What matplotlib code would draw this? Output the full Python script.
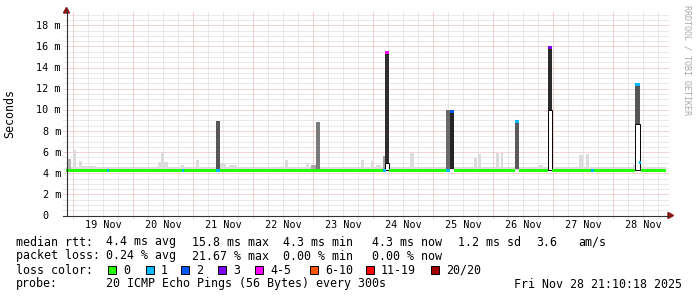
import matplotlib
matplotlib.use("Agg")
import numpy as np
import matplotlib.pyplot as plt
from matplotlib.patches import Rectangle, Polygon
from matplotlib.lines import Line2D

# ---------------- data (time in hours since 19 Nov 00:00) ----------------
t_start, t_end = -2.83, 237.17          # Nov 18 21:10 .. Nov 28 21:10
day_labels = ["19 Nov", "20 Nov", "21 Nov", "22 Nov", "23 Nov",
              "24 Nov", "25 Nov", "26 Nov", "27 Nov", "28 Nov"]
y_ticks = [0, 2, 4, 6, 8, 10, 12, 14, 16, 18]                 # ms
y_tick_labels = ["0", "2 m", "4 m", "6 m", "8 m", "10 m", "12 m", "14 m", "16 m", "18 m"]

median_level = 4.27          # ms, median rtt line
smoke_base_top = 4.6         # ms, usual top of the light smoke

# light smoke bumps above the median
smoke_t0 = [-2.0, 0.0, 2.4, 3.4, 6.0, 34.0, 35.2, 36.4, 43.2, 49.2, 58.8, 60.0, 62.4,
            84.8, 93.2, 95.2, 115.2, 119.2, 121.2, 124.0, 134.8, 160.4, 162.0,
            169.2, 171.2, 186.4, 202.4, 205.2, 224.0]
smoke_t1 = [-1.0, 1.2, 3.4, 6.0, 9.2, 35.2, 36.4, 38.0, 44.4, 50.4, 60.0, 61.2, 65.6,
            86.0, 94.4, 97.2, 116.4, 120.0, 123.2, 124.8, 136.4, 161.6, 163.2,
            170.4, 172.0, 188.0, 204.0, 206.4, 225.2]
smoke_top = [5.3, 6.2, 5.2, 4.7, 4.65, 5.1, 6.0, 5.05, 4.8, 5.25, 5.0, 4.85, 4.75,
             5.25, 5.0, 4.8, 5.25, 5.15, 4.75, 5.6, 5.95, 5.4, 5.8,
             5.95, 5.95, 4.8, 5.7, 5.8, 4.8]
smoke_shade = ["#b8b8b8", "#dcdcdc", "#dcdcdc", "#dcdcdc", "#dcdcdc", "#dcdcdc", "#dcdcdc",
               "#dcdcdc", "#dcdcdc", "#dcdcdc", "#dcdcdc", "#dcdcdc", "#dcdcdc",
               "#dcdcdc", "#dcdcdc", "#a8a8a8", "#dcdcdc", "#dcdcdc", "#dcdcdc", "#a0a0a0",
               "#dcdcdc", "#dcdcdc", "#dcdcdc", "#dcdcdc", "#dcdcdc", "#dcdcdc",
               "#dcdcdc", "#dcdcdc", "#dcdcdc"]

# dark smoke spikes
spike_t0 = [57.2, 97.2, 124.8, 149.2, 150.8, 176.8, 190.0, 224.8]
spike_t1 = [58.6, 98.6, 126.4, 150.6, 152.4, 178.4, 191.4, 226.6]
spike_top = [8.97, 8.85, 15.45, 10.0, 9.8, 8.9, 15.85, 12.4]
spike_low = [4.4, 4.4, 4.95, 4.4, 4.4, 4.4, 10.0, 8.7]
spike_shade = ["#565656", "#7a7a7a", "#2e2e2e", "#6a6a6a", "#242424", "#5a5a5a", "#2a2a2a", "#555555"]
spike_notch = [False, False, True, False, False, False, True, True]

# median line gaps (where the median jumped up) and loss coloured median pieces
median_gap_t0 = [124.8, 150.8, 176.8, 190.0, 224.8]
median_gap_t1 = [126.4, 152.4, 178.4, 191.4, 227.2]
loss_t0 = [13.6, 43.6, 57.2, 124.0, 149.2, 207.2, 124.8, 150.8, 176.8, 190.0, 224.8, 226.4]
loss_t1 = [14.4, 44.4, 58.6, 125.2, 150.6, 208.4, 126.4, 152.4, 178.4, 191.4, 226.6, 227.2]
loss_val = [4.27, 4.27, 4.27, 4.27, 4.27, 4.27, 15.45, 9.8, 8.9, 15.85, 12.4, 5.0]
loss_cat = [1, 1, 1, 1, 1, 1, 4, 2, 1, 3, 1, 1]

loss_labels = ["0", "1", "2", "3", "4-5", "6-10", "11-19", "20/20"]
loss_colors = ["#26ff00", "#00b8ff", "#0059ff", "#7e00ff", "#ff00ff", "#ff5500", "#ff0000", "#a00000"]

stats_rtt = [("median rtt:", 16), ("4.4 ms avg", 106.5), ("15.8 ms max", 191.8),
             ("4.3 ms min", 283), ("4.3 ms now", 371.5), ("1.2 ms sd", 457.5),
             ("3.6", 536.5), ("am/s", 578.5)]
stats_loss = [("packet loss:", 16), ("0.24 % avg", 106.5), ("21.67 % max", 192),
              ("0.00 % min", 283), ("0.00 % now", 371.5)]
probe_text = "20 ICMP Echo Pings (56 Bytes) every 300s"
date_text = "Fri Nov 28 21:10:18 2025"

# ---------------- layout ----------------
W, H, DPI = 697, 297, 100
PX_H = 2.5        # pixels per hour
PX_M = 10.57      # pixels per ms
x_left, x_right, y_bot, y_top = 66.0, 668.0, 215.5, 12.0

MONO = "DejaVu Sans Mono"
fig = plt.figure(figsize=(W / DPI, H / DPI), dpi=DPI)
fig.patch.set_facecolor("white")
ax = fig.add_axes([x_left / W, 1 - y_bot / H, (x_right - x_left) / W, (y_bot - y_top) / H])
ax.set_xlim(t_start, t_start + (x_right - x_left) / PX_H)
ax.set_ylim(0, (y_bot - y_top) / PX_M)
ax.axis("off")

def fx(px):
    return px / W

def fy(py):
    return 1 - py / H

xmin_ext = t_start - 3 / PX_H
ymin_ext = -3 / PX_M
ymax = (y_bot - y_top) / PX_M
xmax = t_start + (x_right - x_left) / PX_H
dots = (0, (1, 1))
minor_c, major_c = "#d4d4d4", "#eaa8a8"

# horizontal grid
for v in np.arange(0.5, 19.01, 0.5):
    major = abs(v / 2 - round(v / 2)) < 1e-9
    ax.hlines(v, xmin_ext, xmax, colors=major_c if major else minor_c,
              linestyles=dots, linewidth=0.72, clip_on=False, zorder=1)
# vertical grid
for h in np.arange(0, 240, 6):
    major = h % 24 == 0
    ax.vlines(h, ymin_ext, ymax, colors=major_c if major else minor_c,
              linestyles=dots, linewidth=0.72, clip_on=False, zorder=1)

# smoke
ax.bar([t_start], [smoke_base_top - median_level], width=[t_end - t_start],
       bottom=median_level, align="edge", color="#dcdcdc", linewidth=0, zorder=2)
for a, b, top, c in zip(smoke_t0, smoke_t1, smoke_top, smoke_shade):
    ax.bar([a], [top - median_level], width=[b - a], bottom=median_level,
           align="edge", color=c, linewidth=0, zorder=2)

# spikes
for a, b, top, low, c, notch in zip(spike_t0, spike_t1, spike_top, spike_low, spike_shade, spike_notch):
    ax.bar([a], [top - low], width=[b - a], bottom=low, align="edge",
           color=c, linewidth=0, zorder=3)
    if notch:
        ax.bar([a], [low - median_level], width=[b - a], bottom=median_level, align="edge",
               facecolor="white", edgecolor="black", linewidth=0.7, zorder=4)

# median line (green where no loss)
line_h = 3 / PX_M
edges = [t_start] + [v for pair in zip(median_gap_t0, median_gap_t1) for v in pair] + [t_end]
for a, b in zip(edges[0::2], edges[1::2]):
    ax.bar([a], [line_h], width=[b - a], bottom=median_level - line_h / 2, align="edge",
           color=loss_colors[0], linewidth=0, zorder=5)
for a, b, v, k in zip(loss_t0, loss_t1, loss_val, loss_cat):
    ax.bar([a], [line_h], width=[b - a], bottom=v - line_h / 2, align="edge",
           color=loss_colors[k], linewidth=0, zorder=6)

# axis labels
for v, lab in zip(y_ticks, y_tick_labels):
    off = -5 if lab != "0" else -5 - 2 * 6.1
    ax.annotate(lab, xy=(0, v), xycoords=("axes fraction", "data"),
                xytext=(off, -3.7), textcoords="offset pixels",
                ha="right", va="baseline", fontfamily=MONO, fontsize=7.3, color="black")
for i, lab in enumerate(day_labels):
    ax.annotate(lab, xy=(24 * i + 12, 0), xycoords="data",
                xytext=(0, -12), textcoords="offset pixels",
                ha="center", va="baseline", fontfamily=MONO, fontsize=7.3, color="black",
                annotation_clip=False)

# axes lines and arrows
axis_c = "#333333"
fig.add_artist(Line2D([fx(66.5), fx(66.5)], [fy(y_bot + 0.5), fy(10)], color=axis_c,
                      linewidth=0.8, transform=fig.transFigure))
fig.add_artist(Line2D([fx(63), fx(669)], [fy(y_bot), fy(y_bot)], color=axis_c,
                      linewidth=0.8, transform=fig.transFigure))
arrow_c = "#8b1414"
fig.add_artist(Polygon([(fx(63.5), fy(13)), (fx(69.5), fy(13)), (fx(66.5), fy(7.5))],
                       closed=True, color=arrow_c, transform=fig.transFigure))
fig.add_artist(Polygon([(fx(668), fy(212.5)), (fx(668), fy(218.5)), (fx(673.5), fy(215.5))],
                       closed=True, color=arrow_c, transform=fig.transFigure))

# unit label & watermark
fig.text(fx(10), fy(113.5), "Seconds", rotation=90, ha="center", va="center",
         fontfamily=MONO, fontsize=8.37, color="black")
fig.text(fx(687), fy(60), "RRDTOOL / TOBI OETIKER", rotation=270, ha="center", va="center",
         fontfamily=MONO, fontsize=6.0, color="#a8a8a8")

# legend block
def ltext(x, y, s, ha="left"):
    fig.text(fx(x), fy(y), s, ha=ha, va="baseline", fontfamily=MONO, fontsize=8.37, color="black")

for s, x in stats_rtt:
    ltext(x, 245.5, s)
for s, x in stats_loss:
    ltext(x, 259.5, s)
ltext(16, 273.5, "loss color:")
sq_x = [108, 146, 181, 218, 255, 310, 366, 431]
for x, c, lab in zip(sq_x, loss_colors, loss_labels):
    fig.add_artist(Rectangle((fx(x), fy(273.5)), 8 / W, 8 / H, facecolor=c, edgecolor="black",
                             linewidth=0.7, transform=fig.transFigure))
    ltext(x + 15, 273.5, lab)
ltext(16, 287.5, "probe:")
ltext(106.5, 287.5, probe_text)
ltext(681.5, 287.5, date_text, ha="right")

fig.savefig("out.png", dpi=DPI, facecolor="white")
